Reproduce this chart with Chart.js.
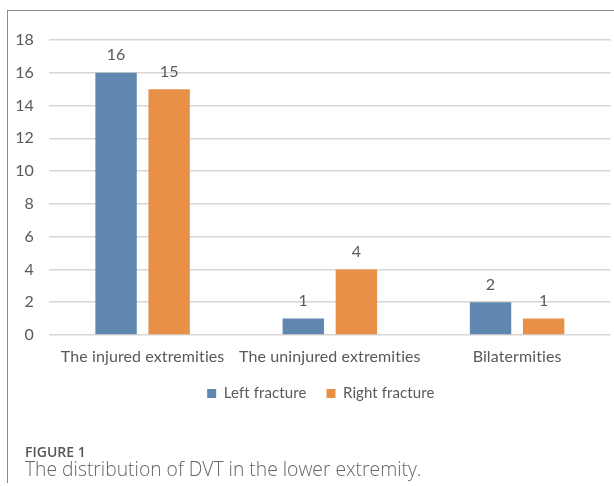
<!DOCTYPE html>
<html>
<head>
<meta charset="utf-8">
<script src="https://cdn.jsdelivr.net/npm/chart.js@4"></script>
<style>
    html, body { margin: 0; padding: 0; background: #fff; }
    body { width: 614px; height: 486px; position: relative; overflow: hidden; }
    .frame {
        position: absolute; left: 7px; top: 10px; width: 620px; height: 472px;
        border-top: 1px solid #8a8a8a; border-left: 1px solid #8a8a8a;
    }
    .chart-box { position: absolute; left: 0; top: 0; width: 614px; height: 486px; }
    .fig-label {
        position: absolute; left: 25px; top: 442px; line-height: normal;
        font: 600 14px "Open Sans", sans-serif; color: #555;
    }
    .fig-caption {
        position: absolute; left: 25px; top: 455px; line-height: normal;
        font: 300 19.3px "Open Sans", sans-serif; color: #666;
    }
</style>
</head>
<body>
<div class="frame"></div>
<div class="chart-box"><canvas id="dvtChart"></canvas></div>
<div class="fig-label">FIGURE 1</div>
<div class="fig-caption">The distribution of DVT in the lower extremity.</div>

<script>
// ── DATA ──────────────────────────────────────
const categories    = ['The injured extremities', 'The uninjured extremities', 'Bilatermities'];
const leftFracture  = [16, 1, 2];
const rightFracture = [15, 4, 1];
const yTicks = [0, 2, 4, 6, 8, 10, 12, 14, 16, 18];

const TEXT = '#595959';
const FONT = 'Lato, "Open Sans", sans-serif';

// tiny letter spacing keeps Lato from joining "ti"
const noLigatures = {
    id: 'noLigatures',
    beforeDraw(chart) { chart.ctx.letterSpacing = '0.1px'; }
};

// value labels over each bar
const valueLabels = {
    id: 'valueLabels',
    afterDatasetsDraw(chart) {
        const ctx = chart.ctx;
        ctx.save();
        ctx.font = '16px ' + FONT;
        ctx.fillStyle = TEXT;
        ctx.textAlign = 'center';
        ctx.textBaseline = 'alphabetic';
        chart.data.datasets.forEach((ds, i) => {
            chart.getDatasetMeta(i).data.forEach((bar, j) => {
                ctx.fillText(ds.data[j], bar.x, bar.y - 12.5);
            });
        });
        ctx.restore();
    }
};

// nudge the legend a little right, like the original
const legendNudge = {
    id: 'legendNudge',
    afterLayout(chart) {
        if (chart.legend) { chart.legend.left += 6.5; chart.legend.right += 6.5; }
    }
};

new Chart(document.getElementById('dvtChart').getContext('2d'), {
    type: 'bar',
    data: {
        labels: categories,
        datasets: [
            { label: 'Left fracture',  data: leftFracture,  backgroundColor: '#6087b0' },
            { label: 'Right fracture', data: rightFracture, backgroundColor: '#e99048' }
        ]
    },
    options: {
        responsive: true,
        maintainAspectRatio: false,
        animation: false,
        categoryPercentage: 0.567,
        barPercentage: 0.78,
        layout: { padding: { top: 40, left: 15, right: 3.3, bottom: 75 } },
        plugins: {
            legend: {
                position: 'bottom',
                labels: {
                    boxWidth: 9, boxHeight: 9, padding: 20,
                    color: TEXT, font: { family: FONT, size: 15 }
                }
            },
            tooltip: { enabled: false }
        },
        scales: {
            y: {
                min: 0, max: 18,
                afterBuildTicks: s => { s.ticks = yTicks.map(v => ({ value: v })); },
                afterFit: s => { s.width = 34; },
                border: { display: false },
                grid: { color: '#d9d5d1', lineWidth: 1.5, drawTicks: false },
                ticks: { color: TEXT, padding: 15, font: { family: FONT, size: 16 } }
            },
            x: {
                afterFit: s => { s.height = 31; },
                border: { display: false },
                grid: { display: false, drawTicks: false },
                ticks: { color: TEXT, padding: 12, maxRotation: 0, font: { family: FONT, size: 16 } }
            }
        }
    },
    plugins: [noLigatures, valueLabels, legendNudge]
});
</script>
</body>
</html>
